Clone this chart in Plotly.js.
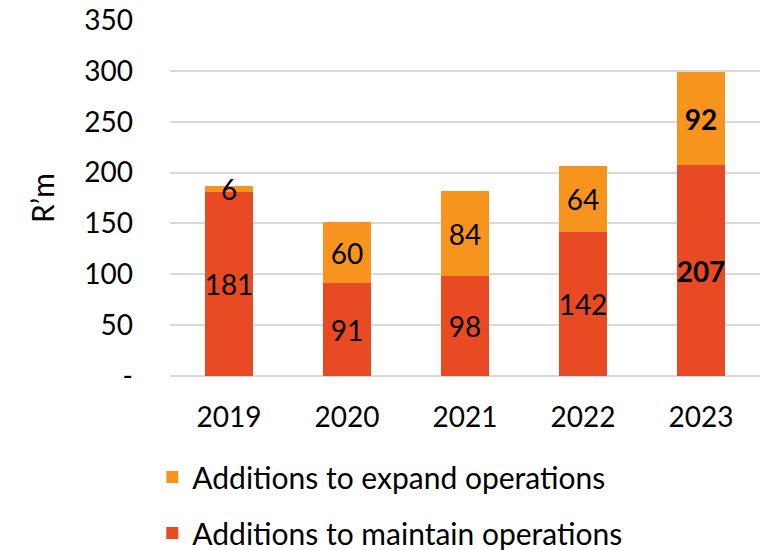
<!DOCTYPE html>
<html>
<head>
<meta charset="utf-8">
<script src="https://cdn.plot.ly/plotly-3.0.1.min.js"></script>
<style>html,body{margin:0;padding:0;background:#fff;}#chart{width:766px;height:550px;}</style>
</head>
<body>
<div id="chart"></div>
<script>
const years = ['2019', '2020', '2021', '2022', '2023'];
const maintain = [181, 91, 98, 142, 207];
const expand = [6, 60, 84, 64, 92];
const yTickVals = [0, 50, 100, 150, 200, 250, 300, 350];
const yTickText = ['-', '50', '100', '150', '200', '250', '300', '350'];

const FONT = 'Lato, "Open Sans", sans-serif';
const lbl = (arr) => arr.map((v, i) => i === arr.length - 1 ? '<b>' + v + '</b>' : String(v));

const traces = [
  {
    type: 'bar', name: 'Additions to maintain operations', x: years, y: maintain,
    marker: {color: '#E84B24'}, text: lbl(maintain), textposition: 'inside',
    insidetextanchor: 'middle', constraintext: 'none', textangle: 0,
    textfont: {family: FONT, size: 28, color: '#000'}, hoverinfo: 'none',
    legendgroup: 'a', legendrank: 2
  },
  {
    type: 'bar', name: 'Additions to expand operations', x: years, y: expand,
    marker: {color: '#F7941D'}, text: lbl(expand), textposition: 'inside',
    insidetextanchor: 'middle', constraintext: 'none', textangle: 0,
    textfont: {family: FONT, size: 28, color: '#000'}, hoverinfo: 'none',
    legendgroup: 'b', legendrank: 1
  }
];

const layout = {
  width: 766, height: 550,
  margin: {l: 170, r: 6, t: 20, b: 174, autoexpand: false},
  barmode: 'stack', bargap: 0.6,
  paper_bgcolor: '#fff', plot_bgcolor: '#fff',
  font: {family: FONT, size: 27, color: '#000'},
  xaxis: {
    type: 'category', showgrid: false, zeroline: false, showline: false,
    ticks: '', ticklabelstandoff: 22, tickfont: {family: FONT, size: 28, color: '#000'}
  },
  yaxis: {
    range: [0, 350], tickvals: yTickVals, ticktext: yTickText,
    showgrid: true, gridcolor: '#D9D9D9', gridwidth: 2,
    zeroline: true, zerolinecolor: '#D9D9D9', zerolinewidth: 2,
    showline: false, ticks: '', ticklabelstandoff: 36,
    tickfont: {family: FONT, size: 28, color: '#000'},
    title: {text: 'R’m', font: {family: FONT, size: 30, color: '#000'}, standoff: 20}
  },
  showlegend: true,
  legend: {
    orientation: 'v', x: -0.03, xanchor: 'left',
    yref: 'container', y: 0.18, yanchor: 'top',
    traceorder: 'grouped', tracegroupgap: 14,
    font: {family: FONT, size: 30, color: '#000'}, bgcolor: 'rgba(0,0,0,0)'
  }
};

Plotly.newPlot('chart', traces, layout, {displayModeBar: false, staticPlot: true});
</script>
</body>
</html>
